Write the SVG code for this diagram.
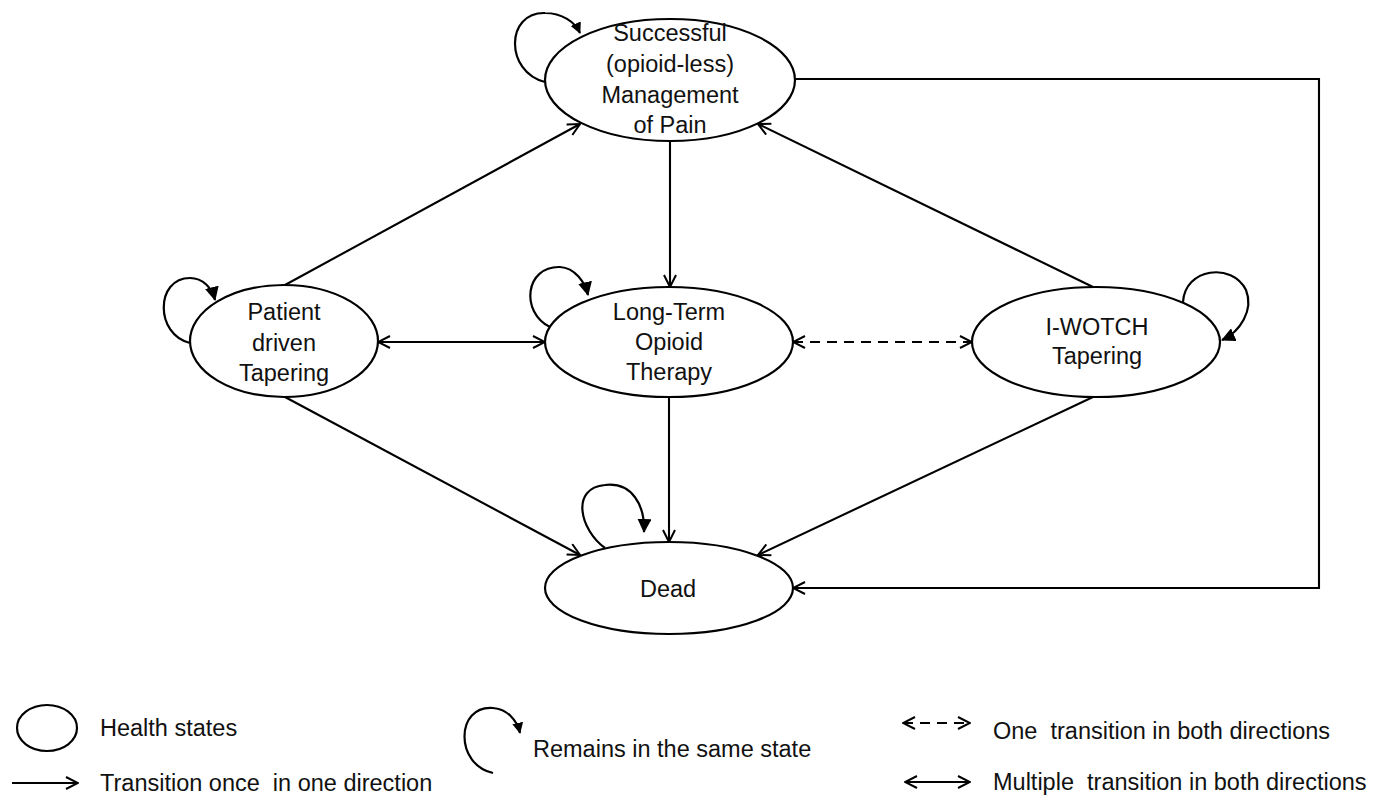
<svg xmlns="http://www.w3.org/2000/svg" width="1384" height="797" viewBox="0 0 1384 797">
<style>
  .node ellipse { fill: #fff; stroke: #000; stroke-width: 2.2; }
  text { font-family: "Liberation Sans", Arial, sans-serif; font-size: 23.5px; fill: #111; white-space: pre; }
  .node text { text-anchor: middle; }
  .edge { fill: none; stroke: #000; stroke-width: 2.1; }
  .dash { stroke-dasharray: 10 7; }
  .loop { fill: none; stroke: #000; stroke-width: 2.2; }
</style>
<defs>
  <marker id="open" viewBox="0 0 14 14" refX="13" refY="7" markerWidth="14" markerHeight="14" markerUnits="userSpaceOnUse" orient="auto-start-reverse">
    <path d="M1,1 L13,7 L1,13" fill="none" stroke="#000" stroke-width="2"/>
  </marker>
  <marker id="solid" viewBox="0 0 14 14" refX="13" refY="7" markerWidth="14" markerHeight="14" markerUnits="userSpaceOnUse" orient="auto">
    <path d="M0,0 L14,7 L0,14 Z" fill="#000"/>
  </marker>
  <marker id="solidSmall" viewBox="0 0 14 14" refX="13" refY="7" markerWidth="11" markerHeight="11" markerUnits="userSpaceOnUse" orient="auto">
    <path d="M0,0 L14,7 L0,14 Z" fill="#000"/>
  </marker>
</defs>
<rect width="1384" height="797" fill="#fff"/>

<g id="connectors">
  <path class="edge" d="M285,285 L580,124" marker-end="url(#open)"/>
  <path class="edge" d="M1093,287 L758,124" marker-end="url(#open)"/>
  <path class="edge" d="M670,140 L670,287" marker-end="url(#open)"/>
  <path class="edge" d="M669,397 L669,542" marker-end="url(#open)"/>
  <path class="edge" d="M285,397 L580,555" marker-end="url(#open)"/>
  <path class="edge" d="M1093,397 L758,555" marker-end="url(#open)"/>
  <path class="edge" d="M795,79 L1319,79 L1319,588 L793,588" marker-end="url(#open)"/>
  <path class="edge" d="M378,342 L545,342" marker-start="url(#open)" marker-end="url(#open)"/>
  <path class="edge dash" d="M793,342 L972,342" marker-start="url(#open)" marker-end="url(#open)"/>
  <!-- self loops -->
  <path class="loop" d="M545,82 C505,72 505,12 545,13 C562,13 575,22 580,33" marker-end="url(#solidSmall)"/>
  <path class="loop" d="M190,343 C155,335 155,278 190,278 C203,278 212,288 215,300" marker-end="url(#solid)"/>
  <path class="loop" d="M550,327 C520,312 525,266 560,267 C575,268 585,282 588,295" marker-end="url(#solid)"/>
  <path class="loop" d="M1183,302 C1185,268 1232,262 1246,290 C1254,310 1240,332 1222,340" marker-end="url(#solid)"/>
  <path class="loop" d="M605,548 C580,530 570,488 605,485 C632,482 645,505 644,532" marker-end="url(#solid)"/>
</g>

<g id="node-success" class="node">
  <ellipse cx="670" cy="80" rx="125" ry="61"/>
  <text x="670" y="41">Successful</text>
  <text x="670" y="72">(opioid-less)</text>
  <text x="670" y="103">Management</text>
  <text x="670" y="133">of Pain</text>
</g>
<g id="node-patient" class="node">
  <ellipse cx="284" cy="341" rx="94" ry="56"/>
  <text x="284" y="320">Patient</text>
  <text x="284" y="351">driven</text>
  <text x="284" y="381">Tapering</text>
</g>
<g id="node-ltot" class="node">
  <ellipse cx="669" cy="342" rx="124" ry="55"/>
  <text x="669" y="320">Long-Term</text>
  <text x="669" y="350">Opioid</text>
  <text x="669" y="380">Therapy</text>
</g>
<g id="node-iwotch" class="node">
  <ellipse cx="1096" cy="342" rx="124" ry="55"/>
  <text x="1097" y="335">I-WOTCH</text>
  <text x="1097" y="364">Tapering</text>
</g>
<g id="node-dead" class="node">
  <ellipse cx="669" cy="588" rx="124" ry="46"/>
  <text x="668" y="597">Dead</text>
</g>

<g id="legend">
  <ellipse cx="47" cy="728" rx="30" ry="23" fill="#fff" stroke="#000" stroke-width="2.2"/>
  <text x="100" y="736">Health states</text>
  <path class="edge" d="M12,783 L78,783" marker-end="url(#open)"/>
  <text x="100" y="791">Transition once  in one direction</text>
  <path class="loop" d="M493,773 C455,765 455,705 493,708 C507,709 517,720 520,733" marker-end="url(#solidSmall)"/>
  <text x="533" y="757">Remains in the same state</text>
  <path class="edge dash" d="M903,723 L970,723" stroke-dasharray="7 6" marker-start="url(#open)" marker-end="url(#open)"/>
  <text x="993" y="739">One  transition in both directions</text>
  <path class="edge" d="M905,782 L970,782" marker-start="url(#open)" marker-end="url(#open)"/>
  <text x="993" y="790">Multiple  transition in both directions</text>
</g>
</svg>
